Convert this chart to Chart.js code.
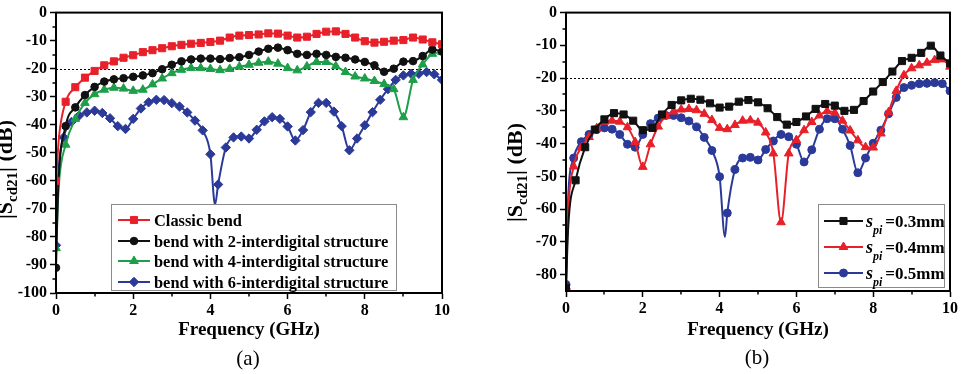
<!DOCTYPE html>
<html>
<head>
<meta charset="utf-8">
<script src="https://cdn.jsdelivr.net/npm/chart.js@4.4.1/dist/chart.umd.min.js"></script>
<style>
  html, body { margin: 0; padding: 0; background: #fff; }
  #wrap { position: relative; width: 962px; height: 374px; overflow: hidden; }
  .panel { position: absolute; top: 0; height: 374px; }
  #panelA { left: 0; width: 480px; }
  #panelB { left: 480px; width: 482px; }
</style>
</head>
<body>
<div id="wrap">
  <div class="panel" id="panelA"><canvas id="chartA" width="480" height="374"></canvas></div>
  <div class="panel" id="panelB"><canvas id="chartB" width="482" height="374"></canvas></div>
</div>
<script>
// --- Sumbu frekuensi (GHz) ---
const freqStep025 = [0, 0.25, 0.5, 0.75, 1, 1.25, 1.5, 1.75, 2, 2.25, 2.5, 2.75, 3, 3.25, 3.5, 3.75, 4, 4.25, 4.5, 4.75, 5,
  5.25, 5.5, 5.75, 6, 6.25, 6.5, 6.75, 7, 7.25, 7.5, 7.75, 8, 8.25, 8.5, 8.75, 9, 9.25, 9.5, 9.75, 10];
const freqStep02 = [0, 0.2, 0.4, 0.6, 0.8, 1, 1.2, 1.4, 1.6, 1.8, 2, 2.2, 2.4, 2.6, 2.8, 3, 3.2, 3.4, 3.6, 3.8, 4, 4.2, 4.4,
  4.6, 4.8, 5, 5.2, 5.4, 5.6, 5.8, 6, 6.2, 6.4, 6.6, 6.8, 7, 7.2, 7.4, 7.6, 7.8, 8, 8.2, 8.4, 8.6, 8.8, 9, 9.2, 9.4, 9.6,
  9.8, 10];

const xTicks = [0, 2, 4, 6, 8, 10];
const yTicksA = [0, -10, -20, -30, -40, -50, -60, -70, -80, -90, -100];
const yTicksB = [0, -10, -20, -30, -40, -50, -60, -70, -80];

// --- Grafik (a): |Scd21| (dB) ---
const labelsA = ['Classic bend', 'bend with 2-interdigital structure', 'bend with 4-interdigital structure',
  'bend with 6-interdigital structure'];
const classicBend = [-60, -31.8, -26.6, -23.2, -20.8, -18.8, -17.4, -16.1, -15.2, -14.1, -13.4, -12.7, -12.0, -11.5, -11.1,
  -10.8, -10.5, -10.0, -8.9, -8.2, -8.0, -7.8, -7.4, -7.5, -8.2, -8.9, -8.6, -7.6, -6.8, -6.7, -7.6, -8.9, -10.2, -10.7,
  -10.4, -10.0, -9.8, -8.9, -9.6, -10.6, -11.3];
const bend2 = [-91, -40.5, -33.8, -29.4, -26.5, -24.6, -23.8, -23.4, -22.9, -22.4, -21.6, -20.2, -18.6, -17.4, -16.7, -16.4,
  -16.4, -16.6, -16.2, -15.9, -15.1, -13.9, -12.9, -12.5, -13.4, -14.7, -15.1, -14.7, -15.1, -15.8, -16.1, -16.7, -17.6,
  -18.8, -21.1, -20.0, -17.5, -17.3, -15.5, -13.2, -13.9];
const bend4 = [-84, -47.1, -37.9, -32.2, -29.1, -27.5, -26.8, -27.1, -27.9, -27.5, -25.6, -23.5, -21.6, -20.4, -19.8, -19.8,
  -20.1, -20.5, -20.1, -19.3, -18.6, -17.9, -17.5, -18.2, -19.8, -20.6, -19.2, -17.6, -17.6, -19.1, -21.2, -22.8, -23.5,
  -24.4, -25.5, -27.3, -37.3, -24.0, -18.5, -14.7, -14.1];
const bend6 = [-83, -44.5, -39.0, -36.7, -35.6, -35.0, -35.8, -37.7, -40.5, -41.5, -37.9, -34.2, -32.0, -31.1, -31.2, -32.3,
  -33.5, -35.6, -38.5, -42.0, -50.5, -61.3, -48.1, -44.5, -44.2, -44.9, -41.8, -38.8, -37.3, -37.9, -40.6, -45.6, -41.9,
  -35.5, -32.2, -32.2, -35.3, -40.5, -49.1, -44.9, -40.2, -35.5, -31.1, -27.3, -24.0, -22.4, -21.8, -21.8, -21.2, -22.0,
  -24.0];
// titik kurva tanpa marker (lengkung dekat 0 GHz dan lembah tajam)
const classicExtra = [[0.08, -44]];
const bend2Extra = [[0.06, -62]];
const bend4Extra = [[0.07, -62]];
const bend6Extra = [[0.06, -58], [4.12, -68.5]];

// --- Grafik (b): variasi s_pi ---
const labelsB = ['=0.3mm', '=0.4mm', '=0.5mm'];
const spi03 = [-84, -51.2, -41.1, -35.7, -32.6, -30.7, -31.1, -33.0, -35.9, -35.2, -31.1, -28.2, -26.8, -26.3, -26.6, -27.7,
  -29.0, -28.7, -27.2, -26.7, -27.4, -29.2, -31.9, -34.2, -33.4, -31.7, -29.4, -27.9, -28.4, -30.0, -29.7, -27.0, -24.1,
  -21.2, -18.0, -14.8, -13.8, -12.3, -10.1, -13.1, -15.5];
const spi04 = [-83.7, -47.0, -41.2, -38.0, -35.3, -33.3, -33.0, -33.3, -35.0, -39.5, -47.1, -40.2, -34.8, -31.6, -30.2,
  -29.6, -29.4, -29.8, -30.9, -32.8, -35.2, -35.6, -34.3, -33.0, -32.9, -33.6, -36.6, -43.0, -64.0, -43.0, -38.9, -35.9,
  -33.4, -31.4, -30.1, -30.6, -33.0, -36.0, -39.0, -41.1, -41.2, -36.9, -30.4, -23.9, -19.1, -17.0, -16.1, -15.3, -14.5,
  -14.3, -16.5];
const spi05 = [-83, -44.4, -39.4, -37.2, -35.7, -35.2, -35.6, -37.2, -40.2, -41.1, -37.2, -33.9, -32.2, -31.4, -31.4, -32.1,
  -33.1, -34.9, -38.1, -42.1, -50.1, -61.2, -47.9, -44.4, -44.2, -45.0, -41.8, -39.2, -37.2, -37.9, -40.2, -45.6, -41.9,
  -35.6, -32.4, -32.4, -35.6, -40.6, -48.9, -44.4, -39.9, -35.9, -30.9, -25.9, -22.9, -22.2, -21.7, -21.6, -21.4, -21.7,
  -23.9];
const spi03Extra = [[0.06, -65]];
const spi04Extra = [[0.05, -62]];
const spi05Extra = [[0.05, -58], [4.14, -68.5]];

const serif = '"Liberation Serif", "Times New Roman", serif';
const RED = '#e8202a', BLACK = '#111111', GREEN = '#1f9e4a', BLUE = '#2b3a98';

// Gabungkan titik bermarker dan titik kurva saja
function makeDataset(label, xs, ys, extra, color, style, radius) {
  const pts = xs.map((x, i) => ({ x: x, y: ys[i], mark: true }));
  extra.forEach(p => pts.push({ x: p[0], y: p[1], mark: false }));
  pts.sort((a, b) => a.x - b.x);
  return {
    label: label,
    data: pts,
    borderColor: color,
    backgroundColor: color,
    borderWidth: 2,
    pointStyle: style,
    markRadius: radius,
    pointRadius: ctx => (ctx.raw && ctx.raw.mark ? radius : 0),
    pointHoverRadius: 0,
    pointBorderWidth: 1,
    cubicInterpolationMode: 'monotone',
    fill: false
  };
}

// Teks dengan subskrip / italic
function drawRich(ctx, parts, x, y) {
  parts.forEach(p => {
    ctx.font = (p.italic ? 'italic ' : '') + (p.normal ? '' : 'bold ') + p.size + 'px ' + serif;
    ctx.fillText(p.t, x, y + (p.dy || 0));
    x += ctx.measureText(p.t).width + (p.gap || 0);
  });
}

function drawMarker(ctx, style, r, x, y) {
  if (Chart.helpers && Chart.helpers.drawPoint) {
    Chart.helpers.drawPoint(ctx, { pointStyle: style, radius: r, rotation: 0, borderWidth: 1 }, x, y);
  }
}

// --- Plugin: garis putus -20 dB, bingkai, tick minor, judul sumbu ---
const framePlugin = {
  id: 'frame',
  beforeDatasetsDraw(chart, args, opts) {
    const { ctx, chartArea: a } = chart;
    const yy = Math.round(chart.scales.y.getPixelForValue(opts.refLevel)) + 0.5;
    ctx.save();
    ctx.strokeStyle = '#000';
    ctx.lineWidth = 1;
    ctx.setLineDash([2, 2]);
    ctx.beginPath();
    ctx.moveTo(a.left, yy);
    ctx.lineTo(a.right, yy);
    ctx.stroke();
    ctx.restore();
  },
  afterDraw(chart, args, opts) {
    const { ctx, chartArea: a, scales: { x, y } } = chart;
    ctx.save();
    ctx.strokeStyle = '#000';
    ctx.lineWidth = 2;
    ctx.strokeRect(a.left, a.top, a.right - a.left, a.bottom - a.top);

    // tick minor
    ctx.lineWidth = 1.5;
    ctx.beginPath();
    for (let v = x.min + opts.minorX; v < x.max; v += opts.minorX * 2) {
      const px = Math.round(x.getPixelForValue(v));
      ctx.moveTo(px, a.bottom);
      ctx.lineTo(px, a.bottom + 3.5);
    }
    for (let v = -5; v > y.min; v -= 10) {
      const py = Math.round(y.getPixelForValue(v));
      ctx.moveTo(a.left, py);
      ctx.lineTo(a.left - 3.5, py);
    }
    ctx.stroke();

    ctx.fillStyle = '#000';
    ctx.textAlign = 'center';
    ctx.textBaseline = 'alphabetic';
    const cx = (a.left + a.right) / 2;
    ctx.font = 'bold 19px ' + serif;
    ctx.fillText('Frequency (GHz)', cx, opts.xTitleY);
    ctx.font = '21px ' + serif;
    ctx.fillText(opts.caption, cx - 1, opts.captionY);

    // judul sumbu y: |Scd21| (dB)
    ctx.translate(a.left - 44, opts.yTitleY);
    ctx.rotate(-Math.PI / 2);
    ctx.textAlign = 'left';
    drawRich(ctx, [
      { t: '|S', size: 22 },
      { t: 'cd21', size: 15, dy: 5 },
      { t: '| (dB)', size: 22 }
    ], 0, 0);
    ctx.restore();
  }
};

// --- Plugin: legenda dalam kotak ---
const legendPlugin = {
  id: 'boxLegend',
  afterDatasetsDraw(chart, args, opts) {
    const ctx = chart.ctx;
    const [x0, y0, x1, y1] = opts.box;
    ctx.save();
    ctx.fillStyle = '#fff';
    ctx.fillRect(x0, y0, x1 - x0, y1 - y0);
    ctx.strokeStyle = '#8a8a8a';
    ctx.lineWidth = 1;
    ctx.strokeRect(x0 + 0.5, y0 + 0.5, x1 - x0, y1 - y0);
    chart.data.datasets.forEach((ds, i) => {
      const yy = opts.rows[i];
      ctx.strokeStyle = ds.borderColor;
      ctx.lineWidth = 2;
      ctx.beginPath();
      ctx.moveTo(opts.line[0], yy);
      ctx.lineTo(opts.line[1], yy);
      ctx.stroke();
      ctx.fillStyle = ds.backgroundColor;
      ctx.lineWidth = 1;
      drawMarker(ctx, ds.pointStyle, ds.markRadius, (opts.line[0] + opts.line[1]) / 2, yy);
      ctx.fillStyle = '#000';
      ctx.textAlign = 'left';
      ctx.textBaseline = 'alphabetic';
      drawRich(ctx, opts.texts[i], opts.textX, yy + opts.baseShift);
    });
    ctx.restore();
  }
};

function axisOptions(yMin, yTicks, yWidth, xHeight) {
  const tickFont = { family: serif, size: 16, weight: 'bold' };
  return {
    x: {
      type: 'linear', min: 0, max: 10,
      afterBuildTicks: s => { s.ticks = xTicks.map(v => ({ value: v })); },
      afterFit: s => { s.height = xHeight; },
      grid: { drawOnChartArea: false, drawTicks: true, tickLength: 6, tickColor: '#000', tickWidth: 1.5 },
      border: { display: true, color: '#000', width: 2 },
      ticks: { color: '#000', font: tickFont, padding: 2, maxRotation: 0 }
    },
    y: {
      type: 'linear', min: yMin, max: 0,
      afterBuildTicks: s => { s.ticks = yTicks.map(v => ({ value: v })); },
      afterFit: s => { s.width = yWidth; },
      grid: { drawOnChartArea: false, drawTicks: true, tickLength: 6, tickColor: '#000', tickWidth: 1.5 },
      border: { display: true, color: '#000', width: 2 },
      ticks: { color: '#000', font: tickFont, padding: 3 }
    }
  };
}

// --- GRAFIK (a) ---
new Chart(document.getElementById('chartA').getContext('2d'), {
  type: 'line',
  data: {
    datasets: [
      makeDataset(labelsA[0], freqStep025, classicBend, classicExtra, RED, 'rect', 5),
      makeDataset(labelsA[1], freqStep025, bend2, bend2Extra, BLACK, 'circle', 3.8),
      makeDataset(labelsA[2], freqStep025, bend4, bend4Extra, GREEN, 'triangle', 5),
      makeDataset(labelsA[3], freqStep02, bend6, bend6Extra, BLUE, 'rectRot', 4.7)
    ]
  },
  options: {
    responsive: false,
    animation: false,
    events: [],
    layout: { padding: { top: 9, right: 38, bottom: 0, left: 0 } },
    scales: axisOptions(-100, yTicksA, 56, 81),
    plugins: {
      legend: { display: false },
      tooltip: { enabled: false },
      frame: { refLevel: -20, minorX: 1, xTitleY: 335, caption: '(a)', captionY: 365, yTitleY: 219 },
      boxLegend: {
        box: [111, 204, 396, 290],
        line: [118, 150],
        textX: 154,
        rows: [220, 241, 261, 282],
        baseShift: 5.5,
        texts: labelsA.map(t => [{ t: t, size: 16.4 }])
      }
    }
  },
  plugins: [framePlugin, legendPlugin]
});

// --- GRAFIK (b) ---
new Chart(document.getElementById('chartB').getContext('2d'), {
  type: 'line',
  data: {
    datasets: [
      makeDataset('s_pi ' + labelsB[0], freqStep025, spi03, spi03Extra, BLACK, 'rect', 5),
      makeDataset('s_pi ' + labelsB[1], freqStep02, spi04, spi04Extra, RED, 'triangle', 5),
      makeDataset('s_pi ' + labelsB[2], freqStep02, spi05, spi05Extra, BLUE, 'circle', 4)
    ]
  },
  options: {
    responsive: false,
    animation: false,
    events: [],
    layout: { padding: { top: 9, right: 12, bottom: 0, left: 0 } },
    scales: axisOptions(-85, yTicksB, 86, 83),
    plugins: {
      legend: { display: false },
      tooltip: { enabled: false },
      frame: { refLevel: -20, minorX: 1, xTitleY: 335, caption: '(b)', captionY: 364, yTitleY: 222 },
      boxLegend: {
        box: [338, 204, 464, 287],
        line: [344, 383],
        textX: 386,
        rows: [221, 247, 273],
        baseShift: 6,
        texts: labelsB.map(t => [
          { t: 's', size: 18, italic: true },
          { t: 'pi', size: 12, italic: true, dy: 7, gap: 3 },
          { t: t, size: 17 }
        ])
      }
    }
  },
  plugins: [framePlugin, legendPlugin]
});
</script>
</body>
</html>
